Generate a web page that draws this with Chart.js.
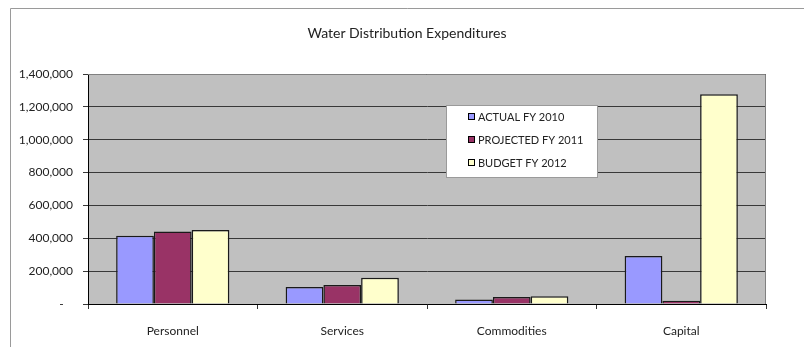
<!DOCTYPE html>
<html>
<head>
<meta charset="utf-8">
<title>Water Distribution Expenditures</title>
<script src="https://cdn.jsdelivr.net/npm/chart.js@4/dist/chart.umd.min.js"></script>
<style>
  html, body { margin: 0; padding: 0; background: #fff; }
  #wrap { width: 804px; height: 347px; position: relative; }
</style>
</head>
<body>
<div id="wrap"><canvas id="chart" width="804" height="347"></canvas></div>
<script>
const chartTitle = 'Water Distribution Expenditures';
const categories = ['Personnel', 'Services', 'Commodities', 'Capital'];
const seriesNames = ['ACTUAL FY 2010', 'PROJECTED FY 2011', 'BUDGET FY 2012'];
const actualFY2010 = [415000, 103000, 28000, 292000];
const projectedFY2011 = [442000, 115000, 42000, 20000];
const budgetFY2012 = [450000, 160000, 47000, 1276000];
const seriesColors = ['#9999FF', '#993366', '#FFFFCC'];
const yMax = 1400000;
const yStep = 200000;

const FONT = 'Lato, "Open Sans", sans-serif';

// Frame, grey plot background, title and in-plot legend
const decorations = {
  id: 'decorations',
  beforeDraw(chart) {
    const { ctx, chartArea: a } = chart;
    ctx.save();
    ctx.fillStyle = '#ffffff';
    ctx.fillRect(0, 0, chart.width, chart.height);
    // outer frame (left and top edges)
    ctx.strokeStyle = '#9a9a9a';
    ctx.lineWidth = 1;
    ctx.beginPath();
    ctx.moveTo(10.5, chart.height);
    ctx.lineTo(10.5, 8.5);
    ctx.lineTo(chart.width, 8.5);
    ctx.stroke();
    // plot background
    ctx.fillStyle = '#C0C0C0';
    ctx.fillRect(a.left, a.top, a.right - a.left, a.bottom - a.top);
    // title
    ctx.fillStyle = '#222';
    ctx.font = '14px ' + FONT;
    ctx.textAlign = 'center';
    ctx.textBaseline = 'middle';
    ctx.fillText(chartTitle, 407, 33);
    ctx.restore();
  },
  beforeDatasetsDraw(chart) {
    const { ctx, chartArea: a } = chart;
    ctx.save();
    ctx.strokeStyle = '#808080';
    ctx.lineWidth = 1;
    ctx.beginPath();
    ctx.moveTo(a.left, a.top + 0.5);
    ctx.lineTo(a.right - 0.5, a.top + 0.5);
    ctx.lineTo(a.right - 0.5, a.bottom);
    ctx.stroke();
    ctx.restore();
  },
  afterDatasetsDraw(chart) {
    const { ctx, chartArea: a } = chart;
    const bx = a.left + 358, by = a.top + 31, bw = 151, bh = 72;
    ctx.save();
    ctx.fillStyle = '#ffffff';
    ctx.fillRect(bx, by, bw, bh);
    ctx.strokeStyle = '#9a9a9a';
    ctx.lineWidth = 1;
    ctx.strokeRect(bx + 0.5, by + 0.5, bw, bh);
    ctx.font = '11px ' + FONT;
    ctx.textAlign = 'left';
    ctx.textBaseline = 'middle';
    chart.data.datasets.forEach((ds, i) => {
      const cy = by + 12 + i * 23;
      ctx.fillStyle = ds.backgroundColor;
      ctx.fillRect(bx + 22, cy - 4, 7, 7);
      ctx.strokeStyle = '#000';
      ctx.strokeRect(bx + 22.5, cy - 3.5, 6, 6);
      ctx.fillStyle = '#222';
      ctx.fillText(ds.label, bx + 32, cy);
    });
    ctx.restore();
  }
};

const seriesValues = [actualFY2010, projectedFY2011, budgetFY2012];

new Chart(document.getElementById('chart'), {
  type: 'bar',
  data: {
    labels: categories,
    datasets: seriesNames.map((name, i) => ({
      label: name,
      data: seriesValues[i],
      backgroundColor: seriesColors[i],
      borderColor: '#1a1a1a',
      borderWidth: 1.5,
      categoryPercentage: 0.668,
      barPercentage: 1.0
    }))
  },
  options: {
    responsive: false,
    animation: false,
    layout: { padding: { top: 74, right: 38, left: 0, bottom: 0 } },
    plugins: {
      legend: { display: false },
      title: { display: false },
      tooltip: { enabled: false }
    },
    scales: {
      x: {
        offset: true,
        afterFit(scale) { scale.height = 43; },
        grid: { offset: true, drawOnChartArea: false, tickLength: 5, color: '#333' },
        border: { color: '#000', width: 1 },
        ticks: { color: '#222', font: { family: FONT, size: 12 }, padding: 15, maxRotation: 0 }
      },
      y: {
        min: 0,
        max: yMax,
        afterFit(scale) { scale.width = 88; },
        grid: { color: '#383838', lineWidth: 1, tickLength: 5 },
        border: { color: '#000', width: 1 },
        ticks: {
          stepSize: yStep,
          color: '#222',
          padding: 10,
          font: { family: FONT, size: 12 },
          callback: (v) => v === 0 ? '-   ' : v.toLocaleString('en-US')
        }
      }
    }
  },
  plugins: [decorations]
});
</script>
</body>
</html>
